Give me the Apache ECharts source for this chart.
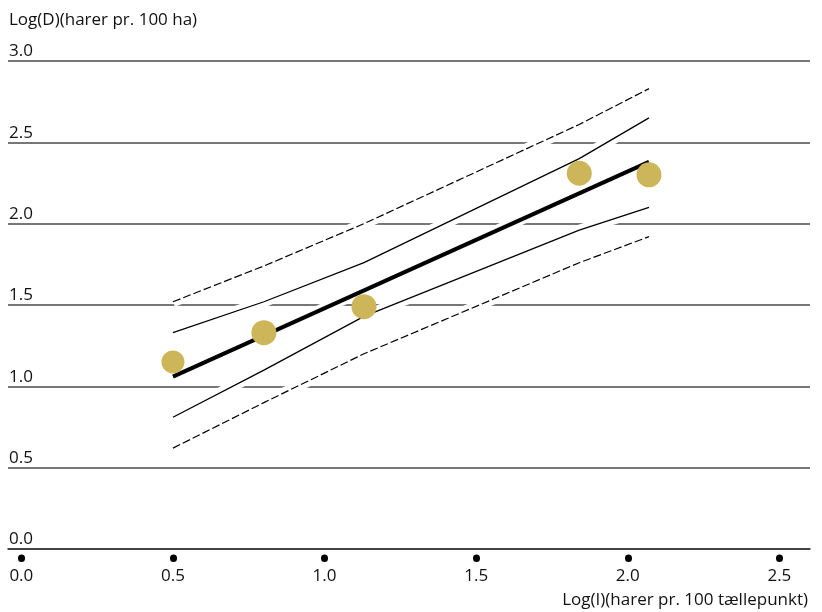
<!DOCTYPE html>
<html>
<head>
<meta charset="utf-8">
<script src="https://cdn.jsdelivr.net/npm/echarts@6/dist/echarts.min.js"></script>
<style>
html,body{margin:0;padding:0;background:#fff;}
#chart{width:822px;height:612px;}
</style>
</head>
<body>
<div id="chart"></div>
<script>
// ---- data ----
const xTickValues = [0, 0.5, 1.0, 1.5, 2.0, 2.5];
const pointsX = [0.50, 0.80, 1.13, 1.84, 2.07];
const pointsY = [1.15, 1.33, 1.49, 2.31, 2.30];
const fitX = [0.50, 2.07];
const fitY = [1.06, 2.38];
const bandX = [0.50, 0.80, 1.13, 1.84, 2.07];
const innerUpper = [1.33, 1.52, 1.76, 2.40, 2.65];
const innerLower = [0.81, 1.10, 1.43, 1.96, 2.10];
const outerUpper = [1.52, 1.74, 2.00, 2.61, 2.83];
const outerLower = [0.62, 0.90, 1.20, 1.76, 1.92];
const yAxisName = 'Log(D)(harer pr. 100 ha)';
const xAxisName = 'Log(I)(harer pr. 100 tællepunkt)';

const FONT = '"Open Sans"';
const FS = 17;
const TXT = '#111';
const zip = (xs, ys) => xs.map((x, i) => [x, ys[i]]);

const lines = [
  {data: zip(bandX, outerUpper), width: 1.2, type: [8, 3]},
  {data: zip(bandX, innerUpper), width: 1.3, type: 'solid'},
  {data: zip(fitX, fitY), width: 4, type: 'solid'},
  {data: zip(bandX, innerLower), width: 1.3, type: 'solid'},
  {data: zip(bandX, outerLower), width: 1.2, type: [8, 3]}
];

const series = [];
lines.forEach(l => series.push({
  type: 'line', data: l.data, symbol: 'none', silent: true, z: 2,
  lineStyle: {color: '#ffffff', width: 11, type: 'solid'}
}));
lines.forEach(l => series.push({
  type: 'line', data: l.data, symbol: 'none', silent: true, z: 3,
  lineStyle: {color: '#000000', width: l.width, type: l.type}
}));
series.push({
  type: 'scatter', data: zip(pointsX, pointsY), z: 5,
  symbolSize: (v, p) => p.dataIndex === 0 ? 23 : 25,
  itemStyle: {color: '#CDB65A', opacity: 1}
});

const chart = echarts.init(document.getElementById('chart'), null, {renderer: 'canvas'});
chart.setOption({
  animation: false,
  backgroundColor: '#ffffff',
  title: {
    text: yAxisName, left: 9, top: 12, padding: 0,
    textStyle: {fontFamily: FONT, fontSize: FS, fontWeight: 'normal', color: TXT}
  },
  grid: {left: 8, right: 12, top: 61, bottom: 63, containLabel: false},
  xAxis: [{
    type: 'value', min: -0.044, max: 2.601,
    name: xAxisName, nameLocation: 'end', nameGap: -2,
    nameTextStyle: {fontFamily: FONT, fontSize: FS, color: TXT, align: 'right', verticalAlign: 'top', padding: [43, 0, 0, 0]},
    axisLine: {show: true, lineStyle: {color: '#333', width: 1.6}},
    axisTick: {show: false},
    splitLine: {show: false},
    axisLabel: {customValues: xTickValues, fontFamily: FONT, fontSize: FS, color: TXT, margin: 19,
      formatter: v => v.toFixed(1)}
  }, {
    type: 'value', min: -0.044, max: 2.601, position: 'bottom', offset: 9,
    axisLine: {show: false},
    axisLabel: {show: false},
    splitLine: {show: false},
    axisTick: {show: true, customValues: xTickValues, length: 0.5, lineStyle: {color: '#000', width: 7, cap: 'round'}}
  }],
  yAxis: {
    type: 'value', min: 0, max: 3, interval: 0.5,
    axisLine: {show: false},
    axisTick: {show: false},
    axisLabel: {inside: true, margin: 1, verticalAlign: 'bottom', padding: [0, 0, 1, 0],
      fontFamily: FONT, fontSize: FS, color: TXT, formatter: v => v.toFixed(1)},
    splitLine: {show: true, lineStyle: {color: '#4a4a4a', width: 1.5}}
  },
  series: series
});
</script>
</body>
</html>
